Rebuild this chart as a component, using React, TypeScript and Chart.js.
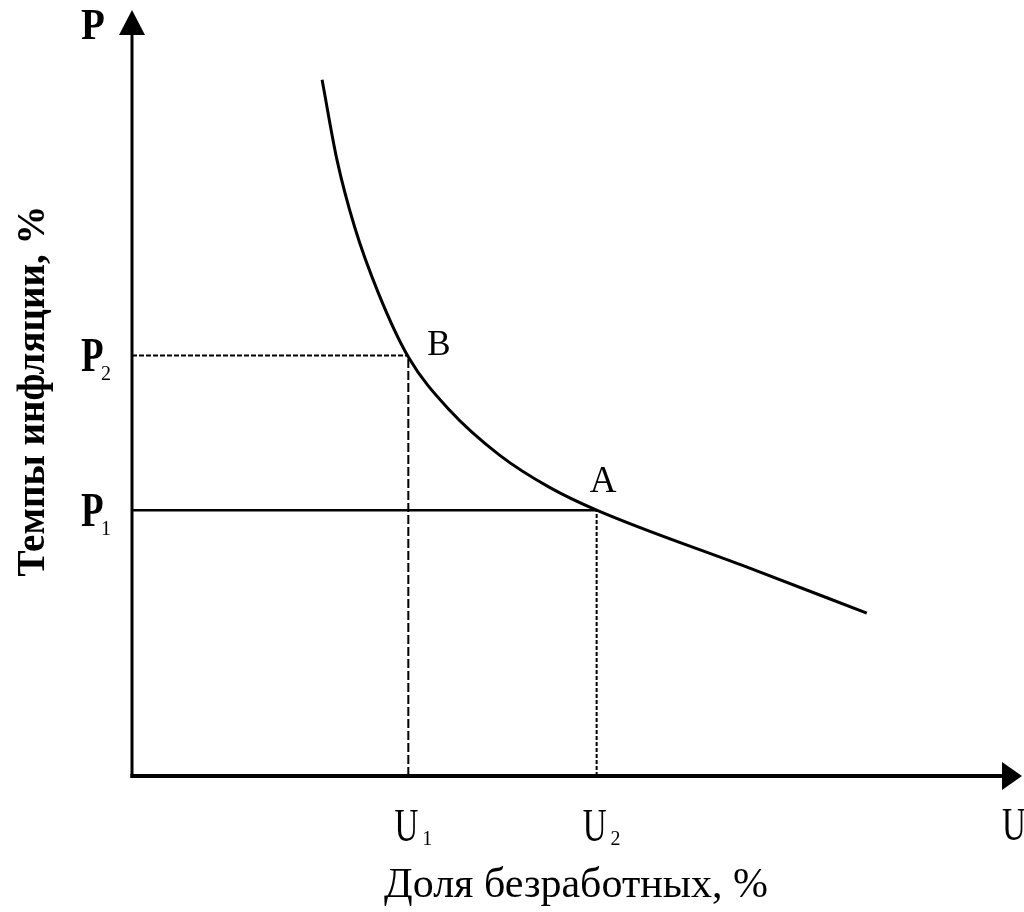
import React, { useEffect, useRef } from "react";
import { Chart, registerables } from "chart.js";

Chart.register(...registerables);

// Phillips curve (unemployment U, inflation P) in conceptual units
const curveU = [2.16, 2.33, 2.53, 2.8, 3.14, 3.61, 4.18, 4.75, 5.28, 6.99, 8.35];
const curveP = [9.27, 8.2, 7.31, 6.43, 5.58, 4.87, 4.27, 3.84, 3.54, 2.78, 2.17];

const U1 = 3.14;
const U2 = 5.28;
const P1 = 3.54;
const P2 = 5.6;

const xTickValues = [U1, U2];
const xTickLabels = [["U", "1"], ["U", "2"]];
const yTickValues = [P2, P1];
const yTickLabels = [["P", "2"], ["P", "1"]];

const pointNames = ["B", "A"];
const pointU = [U1, U2];
const pointP = [P2, P1];

const xAxisName = "U";
const yAxisName = "P";
const xTitle = "Доля безработных, %";
const yTitle = "Темпы инфляции, %";

const SERIF = '"Liberation Serif", "DejaVu Serif", serif';

function drawText(
  ctx: CanvasRenderingContext2D,
  text: string,
  x: number,
  y: number,
  font: string,
  sy: number,
  align: CanvasTextAlign = "left"
) {
  ctx.save();
  ctx.translate(x, y);
  ctx.scale(1, sy);
  ctx.font = font;
  ctx.textAlign = align;
  ctx.textBaseline = "alphabetic";
  ctx.fillStyle = "#000";
  ctx.fillText(text, 0, 0);
  ctx.restore();
}

const decorPlugin = {
  id: "decor",
  beforeDatasetsDraw(chart: any) {
    const ctx: CanvasRenderingContext2D = chart.ctx;
    const xs = chart.scales.x;
    const ys = chart.scales.y;
    const x0 = xs.getPixelForValue(0);
    const y0 = ys.getPixelForValue(0);
    const topY = ys.getPixelForValue(ys.max) - 15;
    const rightX = xs.getPixelForValue(xs.max) + 10;
    ctx.save();
    ctx.fillStyle = "#000";
    ctx.strokeStyle = "#000";
    // y axis
    ctx.lineWidth = 3;
    ctx.beginPath();
    ctx.moveTo(x0, y0 + 2);
    ctx.lineTo(x0, topY + 20);
    ctx.stroke();
    // x axis
    ctx.lineWidth = 4;
    ctx.beginPath();
    ctx.moveTo(x0 - 1.5, y0);
    ctx.lineTo(rightX - 15, y0);
    ctx.stroke();
    // arrow heads
    ctx.beginPath();
    ctx.moveTo(x0, topY);
    ctx.lineTo(x0 - 13, topY + 25);
    ctx.lineTo(x0 + 13, topY + 25);
    ctx.closePath();
    ctx.fill();
    ctx.beginPath();
    ctx.moveTo(rightX, y0);
    ctx.lineTo(rightX - 20, y0 - 14);
    ctx.lineTo(rightX - 20, y0 + 14);
    ctx.closePath();
    ctx.fill();
    ctx.restore();
  },
  afterDraw(chart: any) {
    const ctx: CanvasRenderingContext2D = chart.ctx;
    const xs = chart.scales.x;
    const ys = chart.scales.y;
    const x0 = xs.getPixelForValue(0);
    const y0 = ys.getPixelForValue(0);
    const topY = ys.getPixelForValue(ys.max) - 15;

    const boldP = `bold 37px ${SERIF}`;
    const subF = `20px ${SERIF}`;
    const regU = `33px ${SERIF}`;

    // axis names
    drawText(ctx, yAxisName, x0 - 51, topY + 29, `bold 39px ${SERIF}`, 1.15);
    drawText(ctx, xAxisName, 1002, y0 + 64, regU, 1.4);

    // y ticks
    yTickValues.forEach((v, i) => {
      const py = ys.getPixelForValue(v);
      const [b, s] = yTickLabels[i];
      drawText(ctx, b, x0 - 51, py + 16, boldP, 1.3);
      drawText(ctx, s, x0 - 31, py + 25, subF, 1.1);
    });

    // x ticks
    xTickValues.forEach((v, i) => {
      const px = xs.getPixelForValue(v);
      const [b, s] = xTickLabels[i];
      ctx.font = regU;
      const w = ctx.measureText(b).width;
      drawText(ctx, b, px - 2, y0 + 65, regU, 1.4, "center");
      drawText(ctx, s, px - 2 + w / 2 + 4, y0 + 69, subF, 1.1);
    });

    // point names
    const offs = [[19, 0], [-7, -18]];
    const pf = [35, 37];
    pointNames.forEach((n, i) => {
      const px = xs.getPixelForValue(pointU[i]);
      const py = ys.getPixelForValue(pointP[i]);
      drawText(ctx, n, px + offs[i][0], py + offs[i][1], `${pf[i]}px ${SERIF}`, 1.05);
    });

    // axis titles
    drawText(ctx, xTitle, 576, y0 + 121, `42px ${SERIF}`, 1.0, "center");
    ctx.save();
    ctx.translate(44, 391);
    ctx.rotate(-Math.PI / 2);
    ctx.font = `bold 39px ${SERIF}`;
    ctx.textAlign = "center";
    ctx.textBaseline = "alphabetic";
    ctx.fillStyle = "#000";
    ctx.fillText(yTitle, 0, 0);
    ctx.restore();
  },
};

export default function App() {
  const ref = useRef<HTMLCanvasElement>(null);
  useEffect(() => {
    if (!ref.current) return;
    const pts = curveU.map((u, i) => ({ x: u, y: curveP[i] }));
    const chart = new Chart(ref.current, {
      type: "scatter",
      data: {
        datasets: [
          {
            data: pts,
            showLine: true,
            borderColor: "#000",
            borderWidth: 3,
            pointRadius: 0,
            cubicInterpolationMode: "monotone",
          },
          {
            data: [{ x: 0, y: P2 }, { x: U1, y: P2 }],
            showLine: true,
            borderColor: "#000",
            borderWidth: 2,
            borderDash: [5, 2],
            pointRadius: 0,
          },
          {
            data: [{ x: 0, y: P1 }, { x: U2, y: P1 }],
            showLine: true,
            borderColor: "#000",
            borderWidth: 2.5,
            pointRadius: 0,
          },
          {
            data: [{ x: U1, y: 0 }, { x: U1, y: P2 }],
            showLine: true,
            borderColor: "#000",
            borderWidth: 2,
            borderDash: [9, 3],
            pointRadius: 0,
          },
          {
            data: [{ x: U2, y: 0 }, { x: U2, y: P1 }],
            showLine: true,
            borderColor: "#000",
            borderWidth: 2,
            borderDash: [4, 2],
            pointRadius: 0,
          },
        ],
      } as any,
      options: {
        responsive: false,
        animation: false,
        events: [],
        layout: { padding: { left: 132, right: 12, top: 25, bottom: 136 } },
        plugins: { legend: { display: false }, tooltip: { enabled: false } },
        scales: {
          x: { type: "linear", min: 0, max: 10, display: false },
          y: { type: "linear", min: 0, max: 10, display: false },
        },
      } as any,
      plugins: [decorPlugin],
    });
    return () => chart.destroy();
  }, []);
  return (
    <div style={{ position: "fixed", left: 0, top: 0, width: 1024, height: 912, background: "#fff" }}>
      <canvas ref={ref} width={1024} height={912} style={{ width: 1024, height: 912, display: "block" }} />
    </div>
  );
}
